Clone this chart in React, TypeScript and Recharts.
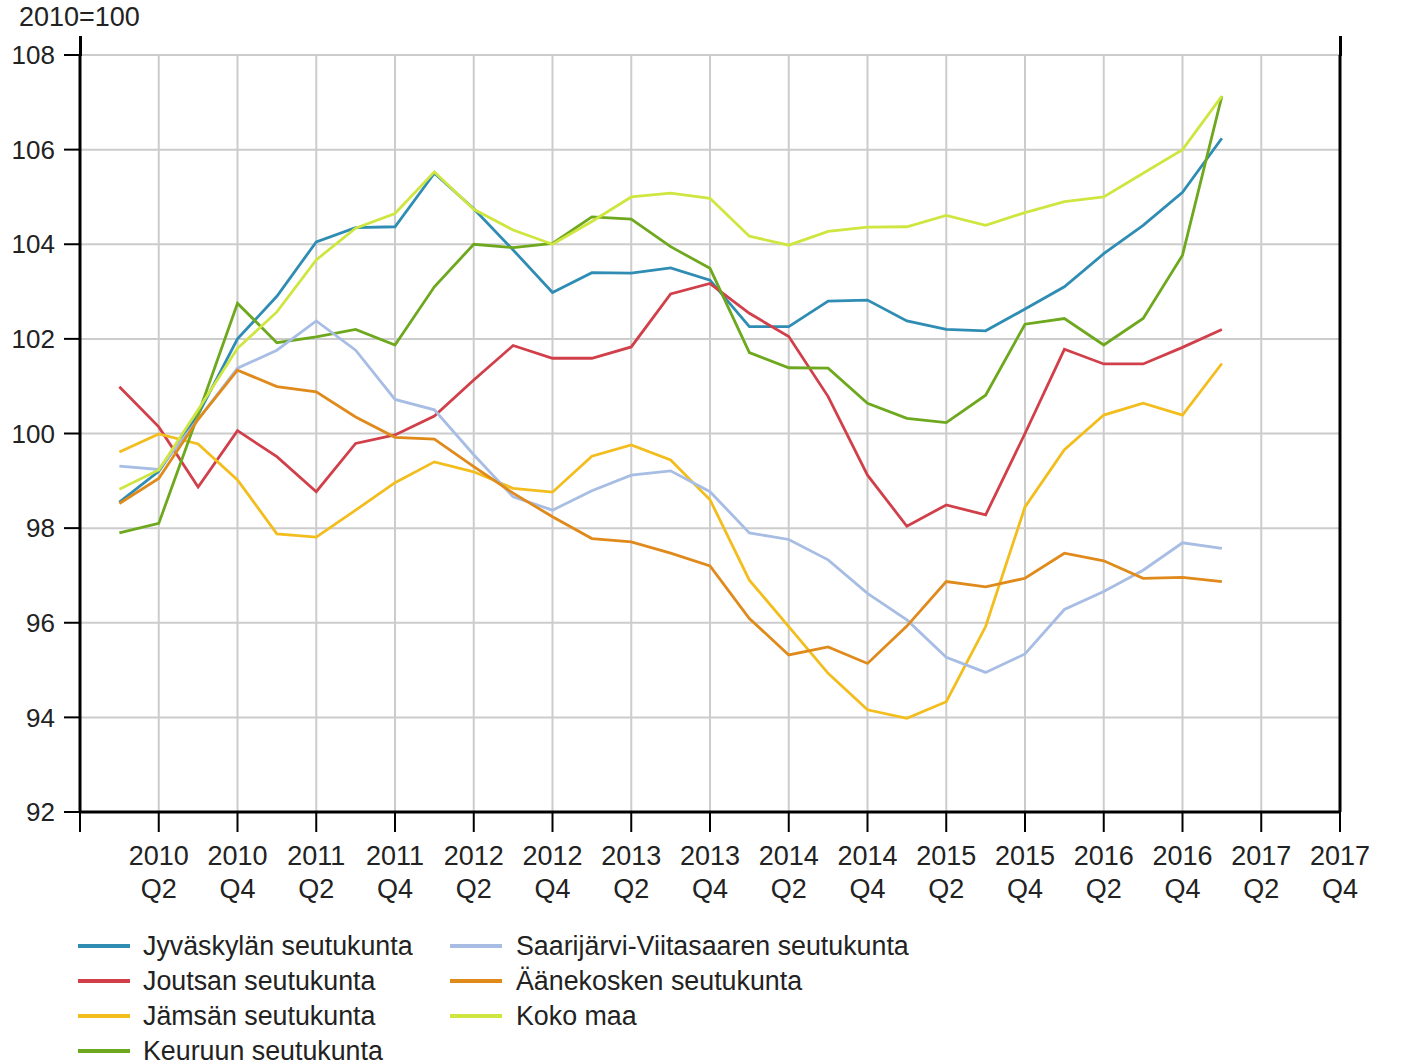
import { LineChart, Line, XAxis, YAxis, CartesianGrid } from "recharts";

// quarters with data, 2010 Q1 .. 2017 Q1
const quarters = [
  "2010 Q1", "2010 Q2", "2010 Q3", "2010 Q4",
  "2011 Q1", "2011 Q2", "2011 Q3", "2011 Q4",
  "2012 Q1", "2012 Q2", "2012 Q3", "2012 Q4",
  "2013 Q1", "2013 Q2", "2013 Q3", "2013 Q4",
  "2014 Q1", "2014 Q2", "2014 Q3", "2014 Q4",
  "2015 Q1", "2015 Q2", "2015 Q3", "2015 Q4",
  "2016 Q1", "2016 Q2", "2016 Q3", "2016 Q4",
  "2017 Q1"
];

// axis runs from 2009 Q4 to 2017 Q4, a tick every second quarter
const xTickLabels = [
  "", "2010 Q2", "2010 Q4", "2011 Q2", "2011 Q4", "2012 Q2", "2012 Q4",
  "2013 Q2", "2013 Q4", "2014 Q2", "2014 Q4", "2015 Q2", "2015 Q4",
  "2016 Q2", "2016 Q4", "2017 Q2", "2017 Q4"
];
const yTicks = [92, 94, 96, 98, 100, 102, 104, 106, 108];

const jyvaskyla = [98.55, 99.2, 100.4, 102.0, 102.9, 104.05, 104.35, 104.37, 105.5, 104.75, 103.88, 102.98, 103.4, 103.39, 103.5, 103.24, 102.26, 102.26, 102.8, 102.82, 102.38, 102.2, 102.17, 102.63, 103.1, 103.8, 104.4, 105.1, 106.24];
const joutsa = [100.99, 100.14, 98.87, 100.06, 99.51, 98.77, 99.79, 99.97, 100.37, 101.13, 101.86, 101.59, 101.59, 101.83, 102.95, 103.17, 102.54, 102.05, 100.78, 99.12, 98.04, 98.49, 98.28, 100.0, 101.78, 101.47, 101.47, 101.82, 102.2];
const jamsa = [99.61, 99.99, 99.78, 99.02, 97.88, 97.81, 98.38, 98.96, 99.4, 99.19, 98.84, 98.76, 99.52, 99.76, 99.44, 98.6, 96.9, 95.92, 94.93, 94.16, 93.98, 94.33, 95.92, 98.45, 99.66, 100.39, 100.64, 100.39, 101.48];
const keuruu = [97.9, 98.1, 100.4, 102.75, 101.92, 102.04, 102.2, 101.87, 103.1, 104.0, 103.93, 104.02, 104.58, 104.53, 103.95, 103.49, 101.71, 101.39, 101.38, 100.64, 100.32, 100.23, 100.81, 102.31, 102.43, 101.87, 102.43, 103.77, 107.13];
const saarijarvi = [99.31, 99.24, 100.3, 101.38, 101.76, 102.38, 101.76, 100.72, 100.5, 99.55, 98.66, 98.38, 98.79, 99.12, 99.21, 98.77, 97.9, 97.76, 97.33, 96.62, 96.06, 95.27, 94.95, 95.34, 96.28, 96.66, 97.11, 97.69, 97.57];
const aanekoski = [98.52, 99.05, 100.3, 101.34, 100.99, 100.88, 100.35, 99.92, 99.88, 99.3, 98.74, 98.24, 97.78, 97.71, 97.47, 97.2, 96.09, 95.32, 95.49, 95.14, 95.93, 96.87, 96.76, 96.94, 97.47, 97.31, 96.94, 96.96, 96.87];
const kokoMaa = [98.82, 99.23, 100.5, 101.8, 102.57, 103.67, 104.34, 104.65, 105.53, 104.74, 104.3, 104.0, 104.48, 105.0, 105.08, 104.97, 104.17, 103.98, 104.27, 104.36, 104.37, 104.61, 104.4, 104.67, 104.9, 105.0, 105.5, 106.0, 107.13];

const series = [
  { key: "jyvaskyla", name: "Jyväskylän seutukunta", color: "#2f8db4", values: jyvaskyla },
  { key: "joutsa", name: "Joutsan seutukunta", color: "#d1404a", values: joutsa },
  { key: "jamsa", name: "Jämsän seutukunta", color: "#f2bd1d", values: jamsa },
  { key: "keuruu", name: "Keuruun seutukunta", color: "#6ea81e", values: keuruu },
  { key: "saarijarvi", name: "Saarijärvi-Viitasaaren seutukunta", color: "#a7bde4", values: saarijarvi },
  { key: "aanekoski", name: "Äänekosken seutukunta", color: "#e08a1b", values: aanekoski },
  { key: "kokoMaa", name: "Koko maa", color: "#cfe640", values: kokoMaa }
];

// position 0 = 2009 Q4, so 2010 Q1 sits at 1
const data = quarters.map((q, i) => {
  const row: Record<string, number | string> = { label: q, pos: i + 1 };
  series.forEach((s) => {
    row[s.key] = s.values[i];
  });
  return row;
});

const xTicks = xTickLabels.map((_, i) => i * 2);

const FONT = "'Liberation Sans', Arial, sans-serif";
const TEXT = "#222";

const XTick = (props: any) => {
  const { x, y, payload } = props;
  const label = xTickLabels[payload.value / 2] || "";
  const [year, q] = label.split(" ");
  if (!label) return null;
  return (
    <text x={x} textAnchor="middle" fontFamily={FONT} fontSize={27} fill={TEXT}>
      <tspan x={x} y={y + 31}>{year}</tspan>
      <tspan x={x} y={y + 64}>{q}</tspan>
    </text>
  );
};

const legendCols = [series.slice(0, 4), series.slice(4)];

const axisExt = (left: number, top: number, height: number) => (
  <div style={{ position: "absolute", left, top, width: 3, height, background: "#000" }} />
);

const App = () => {
  return (
    <div style={{ position: "absolute", left: 0, top: 0, width: 1415, height: 1064, background: "#fff", fontFamily: FONT }}>
      <div style={{ position: "absolute", left: 19, top: 3, fontSize: 27, color: TEXT, lineHeight: "28px" }}>
        2010=100
      </div>
      <LineChart
        width={1415}
        height={912}
        data={data}
        margin={{ top: 55, right: 0, bottom: 0, left: 0 }}
      >
        <CartesianGrid yAxisId="left" stroke="#cccccc" strokeWidth={2} verticalValues={xTicks} />
        <XAxis
          dataKey="pos"
          type="number"
          domain={[0, 32]}
          ticks={xTicks}
          interval={0}
          height={100}
          tickSize={20}
          tick={<XTick />}
          axisLine={{ stroke: "#000", strokeWidth: 3 }}
          tickLine={{ stroke: "#000", strokeWidth: 2 }}
        />
        <YAxis
          yAxisId="left"
          domain={[92, 108]}
          ticks={yTicks}
          interval={0}
          width={80}
          tickSize={16}
          tickMargin={9}
          tick={{ fontFamily: FONT, fontSize: 26, fill: TEXT }}
          axisLine={{ stroke: "#000", strokeWidth: 3 }}
          tickLine={{ stroke: "#000", strokeWidth: 2 }}
        />
        <YAxis
          yAxisId="right"
          orientation="right"
          domain={[92, 108]}
          ticks={yTicks}
          interval={0}
          width={75}
          tickSize={15}
          tickMargin={11}
          tick={{ fontFamily: FONT, fontSize: 26, fill: TEXT, textAnchor: "start" }}
          axisLine={{ stroke: "#000", strokeWidth: 3 }}
          tickLine={{ stroke: "#000", strokeWidth: 2 }}
        />
        {series.map((s) => (
          <Line
            key={s.key}
            yAxisId="left"
            type="linear"
            dataKey={s.key}
            name={s.name}
            stroke={s.color}
            strokeWidth={2.8}
            dot={false}
            activeDot={false}
            isAnimationActive={false}
          />
        ))}
      </LineChart>
      {axisExt(78.5, 36, 20)}
      {axisExt(1338.5, 36, 20)}
      {legendCols.map((col, c) =>
        col.map((s, r) => (
          <div
            key={s.key}
            style={{
              position: "absolute",
              left: c === 0 ? 78 : 450,
              top: 946 + r * 35 - 16,
              height: 32,
              display: "flex",
              alignItems: "center",
              fontSize: 26.8,
              color: TEXT,
              whiteSpace: "nowrap"
            }}
          >
            <span style={{ display: "inline-block", width: 52, height: 4, background: s.color, marginRight: c === 0 ? 13 : 14 }} />
            {s.name}
          </div>
        ))
      )}
    </div>
  );
};

export default App;
